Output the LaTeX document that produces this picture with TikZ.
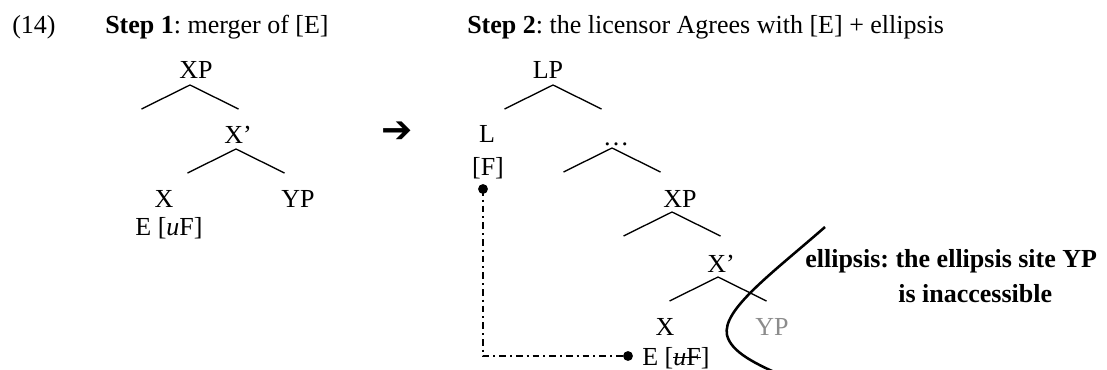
\documentclass[tikz,border=0pt]{standalone}
\usepackage{fontspec}
\setmainfont{Liberation Serif}
\newfontfamily\arrowfont{DejaVu Sans}
\usepackage{xcolor}
\usepackage{tikz}
\usetikzlibrary{positioning}
\frenchspacing

\definecolor{elidedgray}{RGB}{140,140,140}
\newcommand{\struck}[1]{\setbox0\hbox{#1}\rlap{\rule[0.27em]{\wd0}{0.05em}}\box0}
% tree fork under a node: apex offset, then two legs
\newcommand{\fork}[3]{\draw[branch] (#1.base) ++(#2,#3) +(-48.5,24) -- +(0,0) -- +(48.5,24);}

\tikzset{
  lbl/.style={inner sep=0pt, anchor=base},
  branch/.style={line width=1pt},
  agree/.style={line width=1.5pt, dash pattern=on 5pt off 3pt on 1.5pt off 3pt},
  site/.style={line width=1.9pt}
}

\begin{document}
\begin{tikzpicture}[x=0.75pt, y=-0.75pt, font=\fontsize{19.5}{23}\selectfont]
  \useasboundingbox (0,0) rectangle (1107,369);

  % headings
  \node[lbl, anchor=base west] (num) at (12,33) {(14)};
  \node[lbl, anchor=base west] (stepA) at (105,33) {\textbf{Step 1}: merger of [E]};
  \node[lbl, anchor=base west] (stepB) at (467,33) {\textbf{Step 2}: the licensor Agrees with [E] + ellipsis};

  % step 1 tree
  \node[lbl] (xpA) at (196,78) {XP};
  \node[lbl] (xbarA) at (238,143) {X’};
  \node[lbl] (xA) at (164,207) {X};
  \node[lbl] (ypA) at (298,207) {YP};
  \node[lbl] (eA) at (169,235) {E [\textit{u}F]};
  \fork{xpA}{-6}{7}
  \fork{xbarA}{-2}{6}

  \node[inner sep=0pt] (goes) at (397,132) {\arrowfont\bfseries\fontsize{28}{30}\selectfont ➔};

  % step 2 tree
  \node[lbl] (lp) at (548,78) {LP};
  \node[lbl] (l) at (487,142) {L};
  \node[lbl] (f) at (488,175) {[F]};
  \node[lbl] (dots) at (616,145) {…};
  \node[lbl] (xpB) at (680,207) {XP};
  \node[lbl] (xbarB) at (721,272) {X’};
  \node[lbl] (xB) at (665,335) {X};
  \node[lbl, text=elidedgray] (ypB) at (772,335) {YP};
  \node[lbl, anchor=base west] (eB) at (642,365) {E [\struck{\textit{u}F}]};
  \fork{lp}{5}{7}
  \fork{dots}{-4}{3}
  \fork{xpB}{-8}{5}
  \fork{xbarB}{-3}{5}

  % Agree
  \path (f.base) ++(-5,14) coordinate (fdot);
  \path (eB.base west) ++(-14,-9) coordinate (edot);
  \draw[agree] (fdot) |- (edot);
  \fill (fdot) circle[radius=3.7pt];
  \fill (edot) circle[radius=3.7pt];

  % ellipsis site
  \draw[site] (825,227) .. controls (770,275) and (722,310) .. (727,335)
    .. controls (731,352) and (755,364) .. (788,378);
  \node[lbl, anchor=base west] (siteA) at (805,267) {\textbf{ellipsis: the ellipsis site YP}};
  \node[lbl, anchor=base west] (siteB) at (898,302) {\textbf{is inaccessible}};
\end{tikzpicture}
\end{document}
